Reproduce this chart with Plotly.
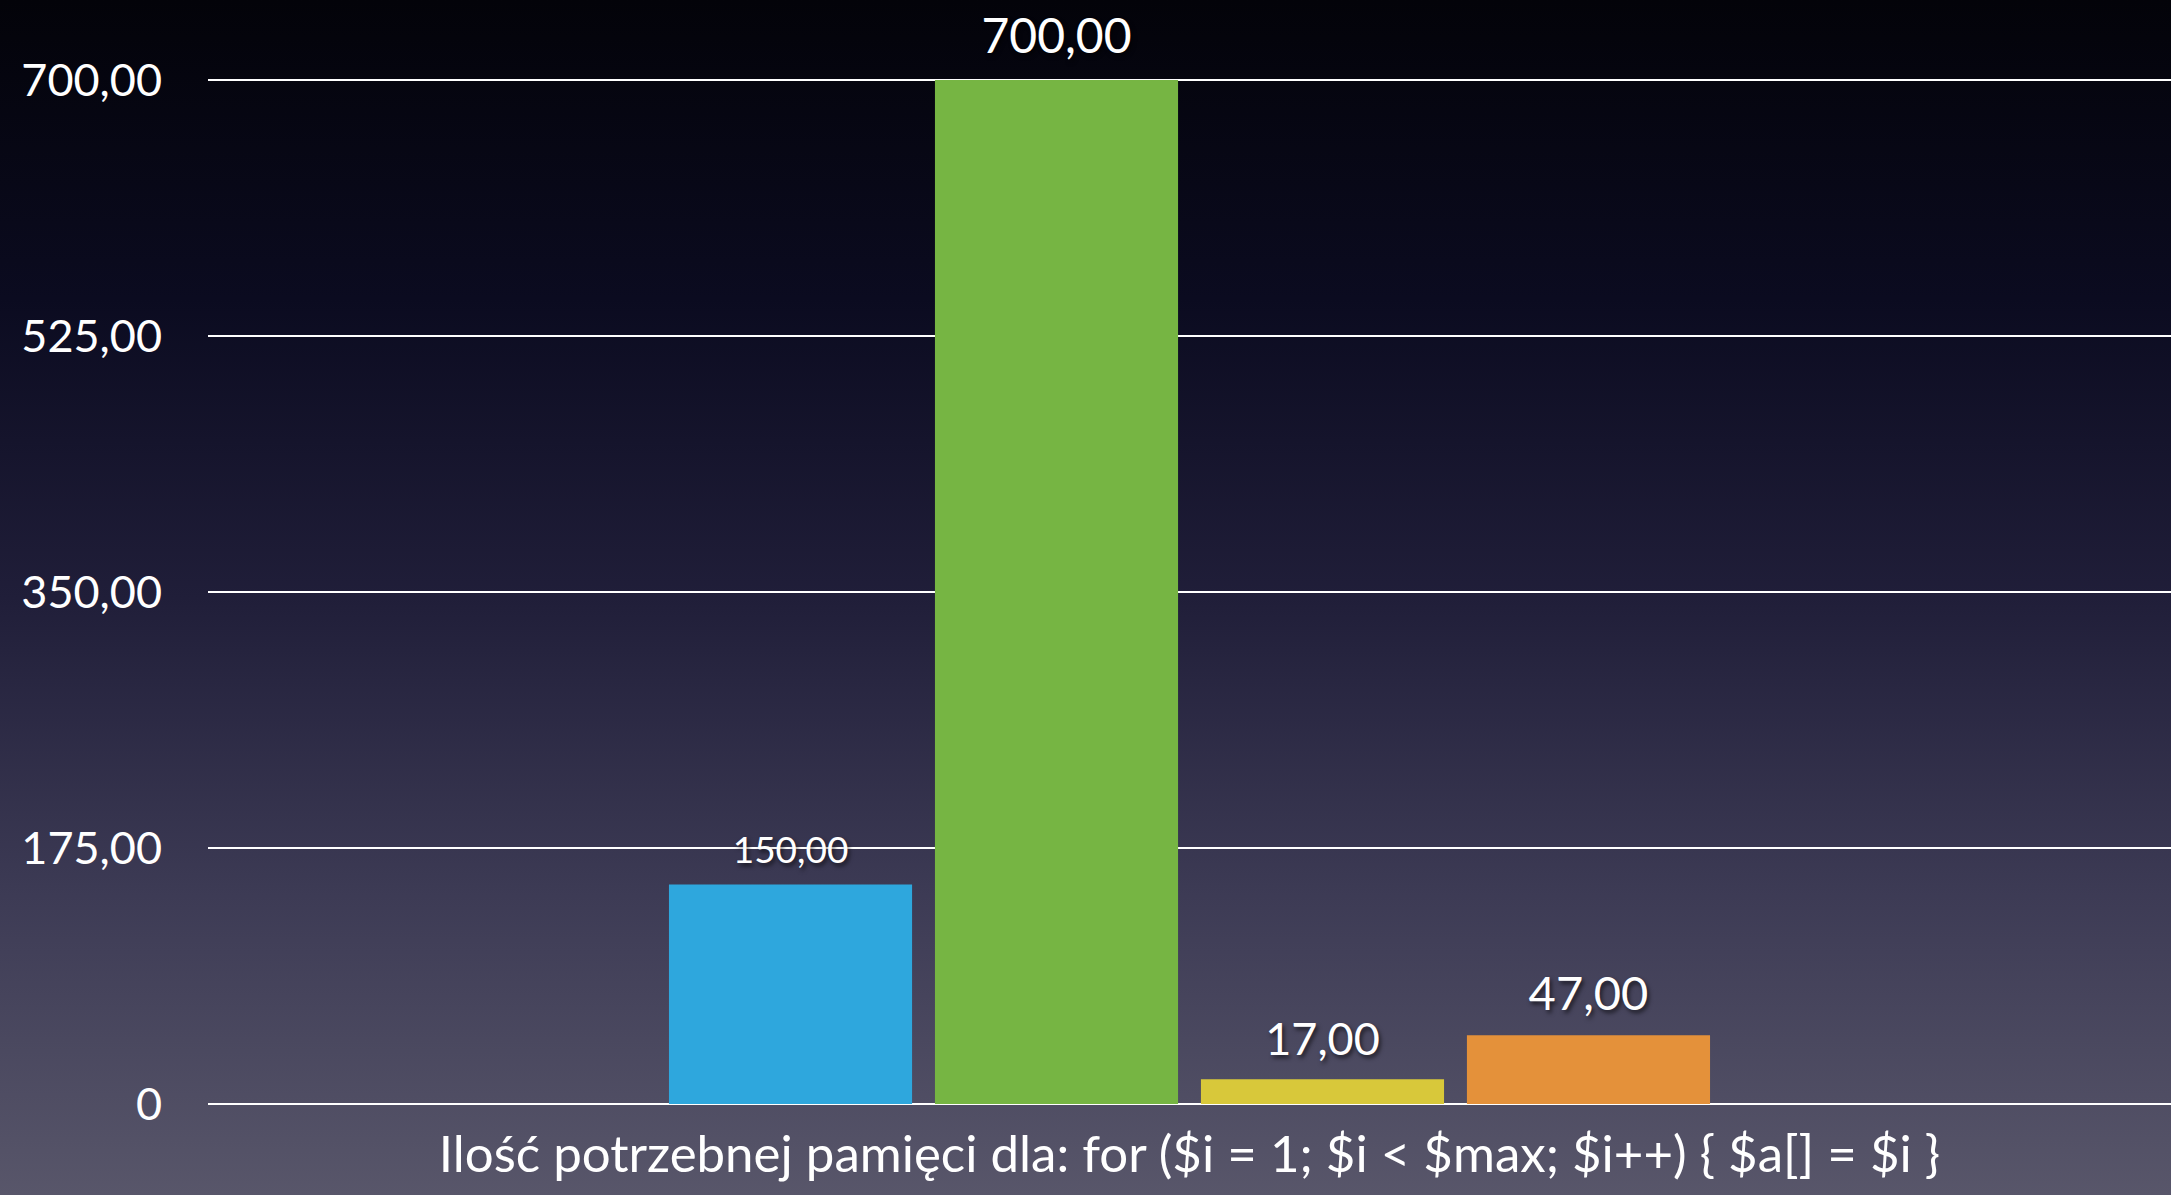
import base64
import plotly.graph_objects as go

# ---- data ----
category = ["Ilość potrzebnej pamięci"]
series_names = ["A", "B", "C", "D"]
series_values = [150, 700, 17, 47]
y_tickvals = [0, 175, 350, 525, 700]
y_ticktext = ["0", "175,00", "350,00", "525,00", "700,00"]
x_title = "Ilość potrzebnej pamięci dla: for ($i = 1; $i < $max; $i++) { $a[] = $i }"

# ---- styles ----
series_colors = ["#2ea7dd", "#76b543", "#d8c83a", "#e4913a"]
label_font_px = [37, 48, 45, 47]
label_gap_px = [14.6, 18.5, 16.2, 17.0]

W, H = 2171, 1195
ML, MR, MT, MB = 208, 0, 78, 91
PW, PH = W - ML - MR, H - MT - MB
Y_TOP = 700 * PH / (PH - 2)  # keep 700 gridline 2px below the plot edge

FONT = "Lato, 'Open Sans', sans-serif"

fig = go.Figure()
for name, val, col, fs, gap in zip(series_names, series_values, series_colors,
                                   label_font_px, label_gap_px):
    fig.add_trace(go.Bar(
        x=category, y=[val], name=name,
        marker=dict(color=col, line=dict(width=0)),
        texttemplate=(f"<span style='font-size:{fs}px'>%{{y:.2f}}</span>"
                      "<br><span style='font-size:2px'>&nbsp;</span>"),
        textposition="outside",
        textfont=dict(color="white", size=gap, family=FONT,
                      shadow="2px 3px 4px rgba(0,0,0,0.6)"),
        constraintext="none",
        cliponaxis=False,
    ))

svg = f'''<svg xmlns="http://www.w3.org/2000/svg" width="{W}" height="{H}" preserveAspectRatio="none">
<defs><linearGradient id="g" x1="0" y1="0" x2="0" y2="1">
<stop offset="0" stop-color="#030309"/>
<stop offset="0.25" stop-color="#0b0b20"/>
<stop offset="0.5" stop-color="#201e39"/>
<stop offset="0.75" stop-color="#3d3b55"/>
<stop offset="1" stop-color="#58566a"/>
</linearGradient></defs>
<rect x="0" y="0" width="{W}" height="{H}" fill="url(#g)"/></svg>'''
src = "data:image/svg+xml;base64," + base64.b64encode(svg.encode()).decode()

fig.update_layout(
    width=W, height=H,
    margin=dict(l=ML, r=MR, t=MT, b=MB, pad=0),
    paper_bgcolor="#2a283f",
    plot_bgcolor="rgba(0,0,0,0)",
    barmode="group", bargap=0.458, bargroupgap=0.086,
    separators=", ",
    showlegend=False,
    font=dict(family=FONT, color="white"),
    images=[dict(source=src, xref="paper", yref="paper",
                 x=-ML / PW, y=1 + MT / PH, sizex=W / PW, sizey=H / PH,
                 xanchor="left", yanchor="top", sizing="stretch", layer="below")],
    xaxis=dict(showticklabels=False, showgrid=False, zeroline=False, showline=False,
               ticks="", title=dict(text=x_title, font=dict(size=51, color="white", family=FONT),
                                    standoff=32)),
    yaxis=dict(range=[0, Y_TOP], tickvals=y_tickvals, ticktext=y_ticktext,
               showgrid=True, gridcolor="white", gridwidth=2,
               zeroline=True, zerolinecolor="white", zerolinewidth=2,
               showline=False, ticks="", ticklabelstandoff=45,
               tickfont=dict(size=45, color="white", family=FONT)),
)

fig.write_html("out.html",
               config={"displayModeBar": False},
               post_script="document.body.style.margin='0';document.body.style.padding='0';"
                           "document.body.style.background='#000';")
